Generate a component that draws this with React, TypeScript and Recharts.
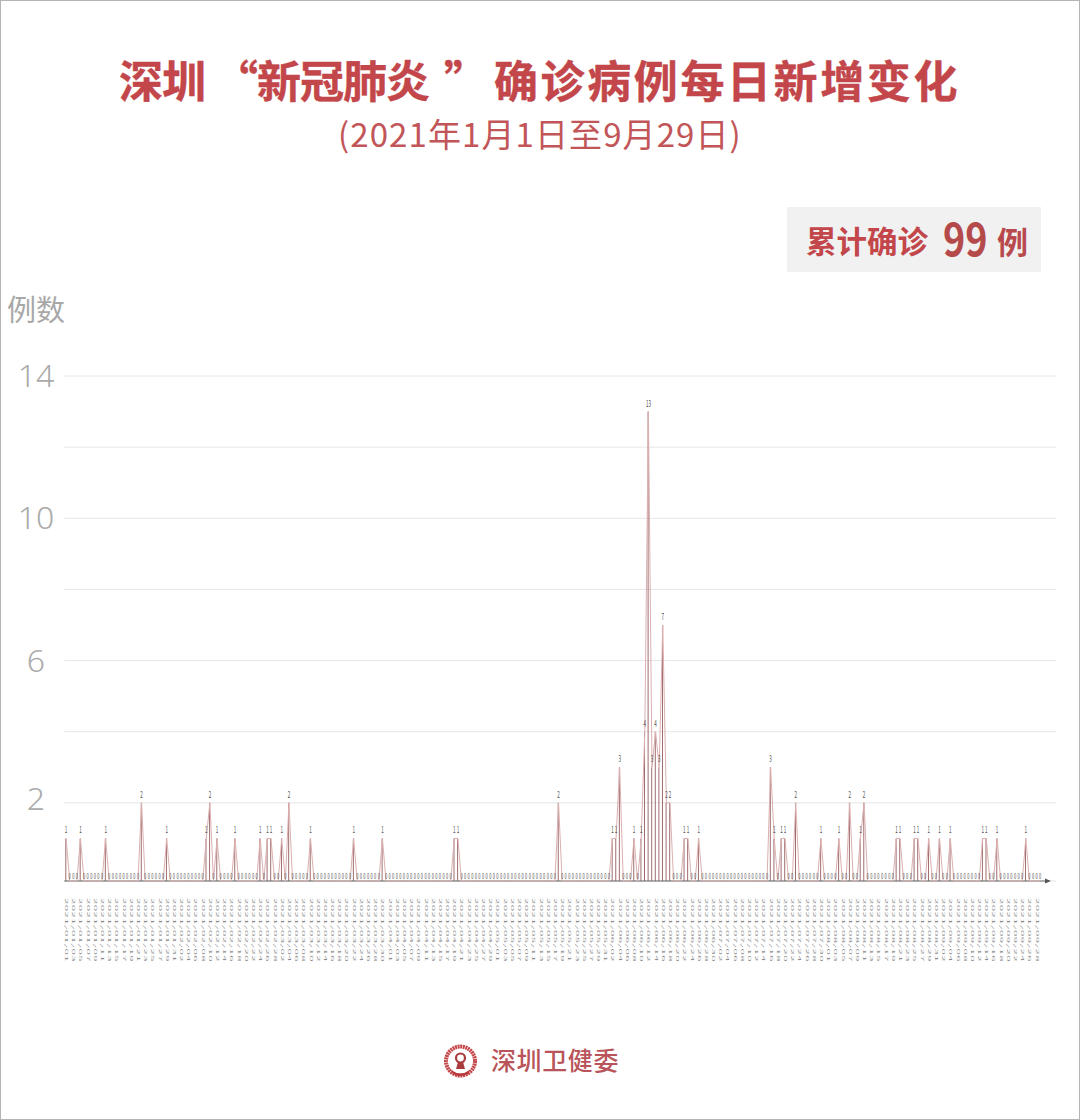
import React from 'react';
import { ComposedChart, Bar, Line, XAxis, YAxis, CartesianGrid, ReferenceLine } from 'recharts';

const TITLE_A = '深圳';
const TITLE_QUOTE_OPEN = '“';
const TITLE_B = '新冠肺炎';
const TITLE_QUOTE_CLOSE = '”';
const TITLE_C = '确诊病例每日新增变化';
const SUBTITLE = '(2021年1月1日至9月29日)';
const TOTAL_LABEL = '累计确诊';
const TOTAL_VALUE = '99';
const TOTAL_UNIT = '例';
const Y_TITLE = '例数';
const SOURCE = '深圳卫健委';
const Y_TICKS = [2, 4, 6, 8, 10, 12, 14];
const Y_LABELLED = [2, 6, 10, 14];
const MONTH_LENGTHS = [31, 28, 31, 30, 31, 30, 31, 31, 29];

// day index within the period -> new confirmed cases (all other days are 0)
const CASE_DAYS = [0, 4, 11, 21, 28, 39, 40, 42, 47, 54, 56, 57, 60, 62, 68, 80, 88, 108, 109, 137, 152, 153, 154, 158, 160, 161, 162, 163, 164, 165, 166, 167, 168, 172, 173, 176, 196, 197, 199, 200, 203, 210, 215, 218, 221, 222, 231, 232, 236, 237, 240, 243, 246, 255, 256, 259, 267];
const CASE_COUNTS = [1, 1, 1, 2, 1, 1, 2, 1, 1, 1, 1, 1, 1, 2, 1, 1, 1, 1, 1, 2, 1, 1, 3, 1, 1, 4, 13, 3, 4, 3, 7, 2, 2, 1, 1, 1, 3, 1, 1, 1, 2, 1, 1, 2, 1, 2, 1, 1, 1, 1, 1, 1, 1, 1, 1, 1, 1];

const dates: string[] = [];
MONTH_LENGTHS.forEach((len, m) => {
  for (let d = 1; d <= len; d++) {
    dates.push(`2021/${String(m + 1).padStart(2, '0')}/${String(d).padStart(2, '0')}`);
  }
});
const caseMap = new Map(CASE_DAYS.map((d, i) => [d, CASE_COUNTS[i]]));
const data = dates.map((date, i) => ({ date, cases: caseMap.get(i) ?? 0 }));

// The reference's baseline sits a little below where a straight scale puts zero.
function baselineScale(dom: number[] = [0, 14], rng: number[] = [881, 376]) {
  const frac = 7 / 505;
  const upper = (v: number) => rng[0] + (rng[1] - rng[0]) * (frac + (v / dom[1]) * (1 - frac));
  const s: any = (v: number) => (v >= 1 ? upper(v) : rng[0] + (upper(1) - rng[0]) * v);
  s.domain = (d?: number[]) => (d ? baselineScale(d, rng) : dom);
  s.range = (r?: number[]) => (r ? baselineScale(dom, r) : rng);
  s.copy = () => baselineScale(dom, rng);
  s.ticks = () => Y_TICKS;
  return s;
}

const FONT = '"Noto Sans CJK SC", "Noto Sans", sans-serif';
const RED = '#c2464a';

const YTick = (p: any) => {
  const v = p.payload.value;
  if (!Y_LABELLED.includes(v)) return null;
  return (
    <text x={36} y={p.y + (v === 2 ? 7 : 11)} textAnchor="middle" fontSize={32} fill="#ababab" fontFamily={'"Noto Sans", sans-serif'} fontWeight={300}>
      {v}
    </text>
  );
};

const XTick = (p: any) => (
  <text
    transform={`translate(${p.x - 1},898) rotate(90) scale(1,0.28)`}
    fontSize={11.5}
    fill="#8a8a8a"
    fontFamily={FONT}
    letterSpacing={0.4}
  >
    {p.payload.value}
  </text>
);

const PointLabel = (p: any) => {
  const zero = p.value === 0;
  return (
    <text
      transform={`translate(${p.x},${p.y + (zero ? -2 : -5)}) scale(0.5,1)`}
      textAnchor="middle"
      fontSize={zero ? 8 : 9}
      fill="#4d4d4d"
      fontFamily={FONT}
    >
      {p.value}
    </text>
  );
};

const ArrowAxis = (p: any) => {
  const { x1, x2, y1 } = p;
  const end = x2 - 5;
  return (
    <g>
      <line x1={x1} x2={end - 4} y1={y1} y2={y1} stroke="#666" strokeWidth={1} />
      <polygon points={`${end},${y1} ${end - 6},${y1 - 2.5} ${end - 6},${y1 + 2.5}`} fill="#555" />
    </g>
  );
};

const abs = (s: React.CSSProperties): React.CSSProperties => ({ position: 'absolute', whiteSpace: 'nowrap', lineHeight: 1, fontFamily: FONT, ...s });
const titleStyle = (left: number, spacing: number) =>
  abs({ left, top: 57, fontSize: 44, fontWeight: 700, color: RED, letterSpacing: spacing, WebkitTextStroke: `0.4px ${RED}` });

export default function App() {
  return (
    <div style={{ position: 'relative', width: 1080, height: 1120, background: '#fff', overflow: 'hidden', boxSizing: 'border-box' }}>
      <style>{'body{margin:0}'}</style>
      <div style={{ position: 'absolute', left: 0, top: 0, opacity: 0.999 }}>
        <ComposedChart
          width={1080}
          height={1120}
          data={data}
          margin={{ top: 376, right: 24, bottom: 139, left: 0 }}
          barCategoryGap={0}
        >
          <CartesianGrid vertical={false} stroke="#e6e6e6" strokeWidth={1} />
          <XAxis
            dataKey="date"
            scale="band"
            interval={1}
            height={100}
            axisLine={false}
            tickLine={false}
            tick={XTick}
            padding={{ left: 0, right: 14 }}
          />
          <YAxis
            width={64.3}
            domain={[0, 14]}
            scale={baselineScale()}
            ticks={Y_TICKS}
            axisLine={false}
            tickLine={false}
            tick={YTick}
          />
          <ReferenceLine y={0} shape={ArrowAxis} />
          <Bar dataKey="cases" barSize={1} fill="#a06c6e" isAnimationActive={false} />
          <Line
            dataKey="cases"
            type="linear"
            stroke="#dcb0b0"
            strokeWidth={1}
            dot={false}
            activeDot={false}
            label={PointLabel}
            isAnimationActive={false}
          />
        </ComposedChart>
      </div>

      <div style={titleStyle(119, -1)}>{TITLE_A}</div>
      <div style={titleStyle(214, 0)}>{TITLE_QUOTE_OPEN}</div>
      <div style={titleStyle(257, -1)}>{TITLE_B}</div>
      <div style={titleStyle(444, 0)}>{TITLE_QUOTE_CLOSE}</div>
      <div style={titleStyle(494, 2.6)}>{TITLE_C}</div>
      <div style={abs({ left: 338, top: 117, fontSize: 33, color: '#c25558', letterSpacing: 1.1 })}>{SUBTITLE}</div>

      <div style={{ position: 'absolute', left: 787, top: 207, width: 254, height: 65, background: '#f1f1f2' }} />
      <div style={abs({ left: 806, top: 225, fontSize: 30.5, fontWeight: 700, color: RED })}>{TOTAL_LABEL}</div>
      <div style={abs({ left: 943, top: 213, fontSize: 46, fontWeight: 700, color: '#b54a4a', transform: 'scaleX(0.82)', transformOrigin: 'left' })}>{TOTAL_VALUE}</div>
      <div style={abs({ left: 997, top: 225, fontSize: 31, fontWeight: 700, color: '#b8494d' })}>{TOTAL_UNIT}</div>

      <div style={abs({ left: 7, top: 294, fontSize: 29, color: '#a8a8a8' })}>{Y_TITLE}</div>

      <svg width={40} height={40} style={{ position: 'absolute', left: 441, top: 1041 }}>
        <circle cx={19.5} cy={20} r={14.5} fill="none" stroke="#c4474a" strokeWidth={4} strokeDasharray="2 0.6" />
        <circle cx={19.5} cy={17} r={4.5} fill="none" stroke="#a93b3e" strokeWidth={2.2} />
        <path d="M17 21 L15 28 H24 L22 21 Z" fill="#a93b3e" />
        <path d="M10 29 Q19.5 36 29 29 L27 33 Q19.5 37 12 33 Z" fill="#b8393d" />
      </svg>
      <div style={abs({ left: 491, top: 1047, fontSize: 25, fontWeight: 500, color: '#b9555a', letterSpacing: 0.6 })}>{SOURCE}</div>

      <div style={{ position: 'absolute', inset: 0, border: '1.5px solid #b4b4b4', pointerEvents: 'none' }} />
    </div>
  );
}
